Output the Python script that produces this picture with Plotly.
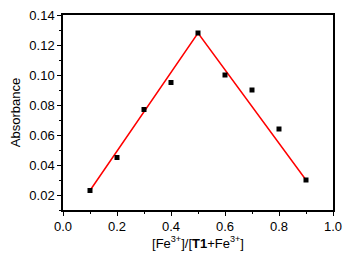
import plotly.graph_objects as go

ratio = [0.1, 0.2, 0.3, 0.4, 0.5, 0.6, 0.7, 0.8, 0.9]
absorbance = [0.023, 0.045, 0.077, 0.095, 0.128, 0.100, 0.090, 0.064, 0.030]
fit_x = [0.1, 0.5, 0.9]
fit_y = [0.023, 0.128, 0.030]

fig = go.Figure()
fig.add_trace(go.Scatter(x=fit_x, y=fit_y, mode="lines",
                         line=dict(color="#ff0000", width=1.5), showlegend=False))
fig.add_trace(go.Scatter(x=ratio, y=absorbance, mode="markers",
                         marker=dict(symbol="square", size=5, color="black"), showlegend=False))

font = dict(family="Liberation Sans, Arial", size=13, color="black")
axis_common = dict(showgrid=False, zeroline=False, showline=True, linecolor="black",
                   linewidth=1.5, mirror=True, ticks="outside", ticklen=4, tickwidth=1.2,
                   tickcolor="black", tickfont=font, automargin=False,
                   minor=dict(ticks="outside", ticklen=2.5, tickwidth=1, tickcolor="black"))

fig.update_xaxes(range=[0, 1.0], tickvals=[0, 0.2, 0.4, 0.6, 0.8, 1.0],
                 ticktext=["0.0", "0.2", "0.4", "0.6", "0.8", "1.0"],
                 minor_dtick=0.1,
                 title=dict(text="[Fe<sup>3+</sup>]/[<b>T1</b>+Fe<sup>3+</sup>]",
                            font=font, standoff=4),
                 **axis_common)
fig.update_yaxes(range=[0.01, 0.14], tickvals=[0.02, 0.04, 0.06, 0.08, 0.10, 0.12, 0.14],
                 ticktext=["0.02", "0.04", "0.06", "0.08", "0.10", "0.12", "0.14"],
                 minor_dtick=0.01,
                 title=dict(text="Absorbance", font=font, standoff=6),
                 **axis_common)

fig.update_layout(width=353, height=259, margin=dict(l=63, r=20, t=15, b=49),
                  plot_bgcolor="white", paper_bgcolor="white")
fig.write_html("out.html", config={"displayModeBar": False},
               post_script="document.body.style.margin='0';document.body.style.overflow='hidden';")
